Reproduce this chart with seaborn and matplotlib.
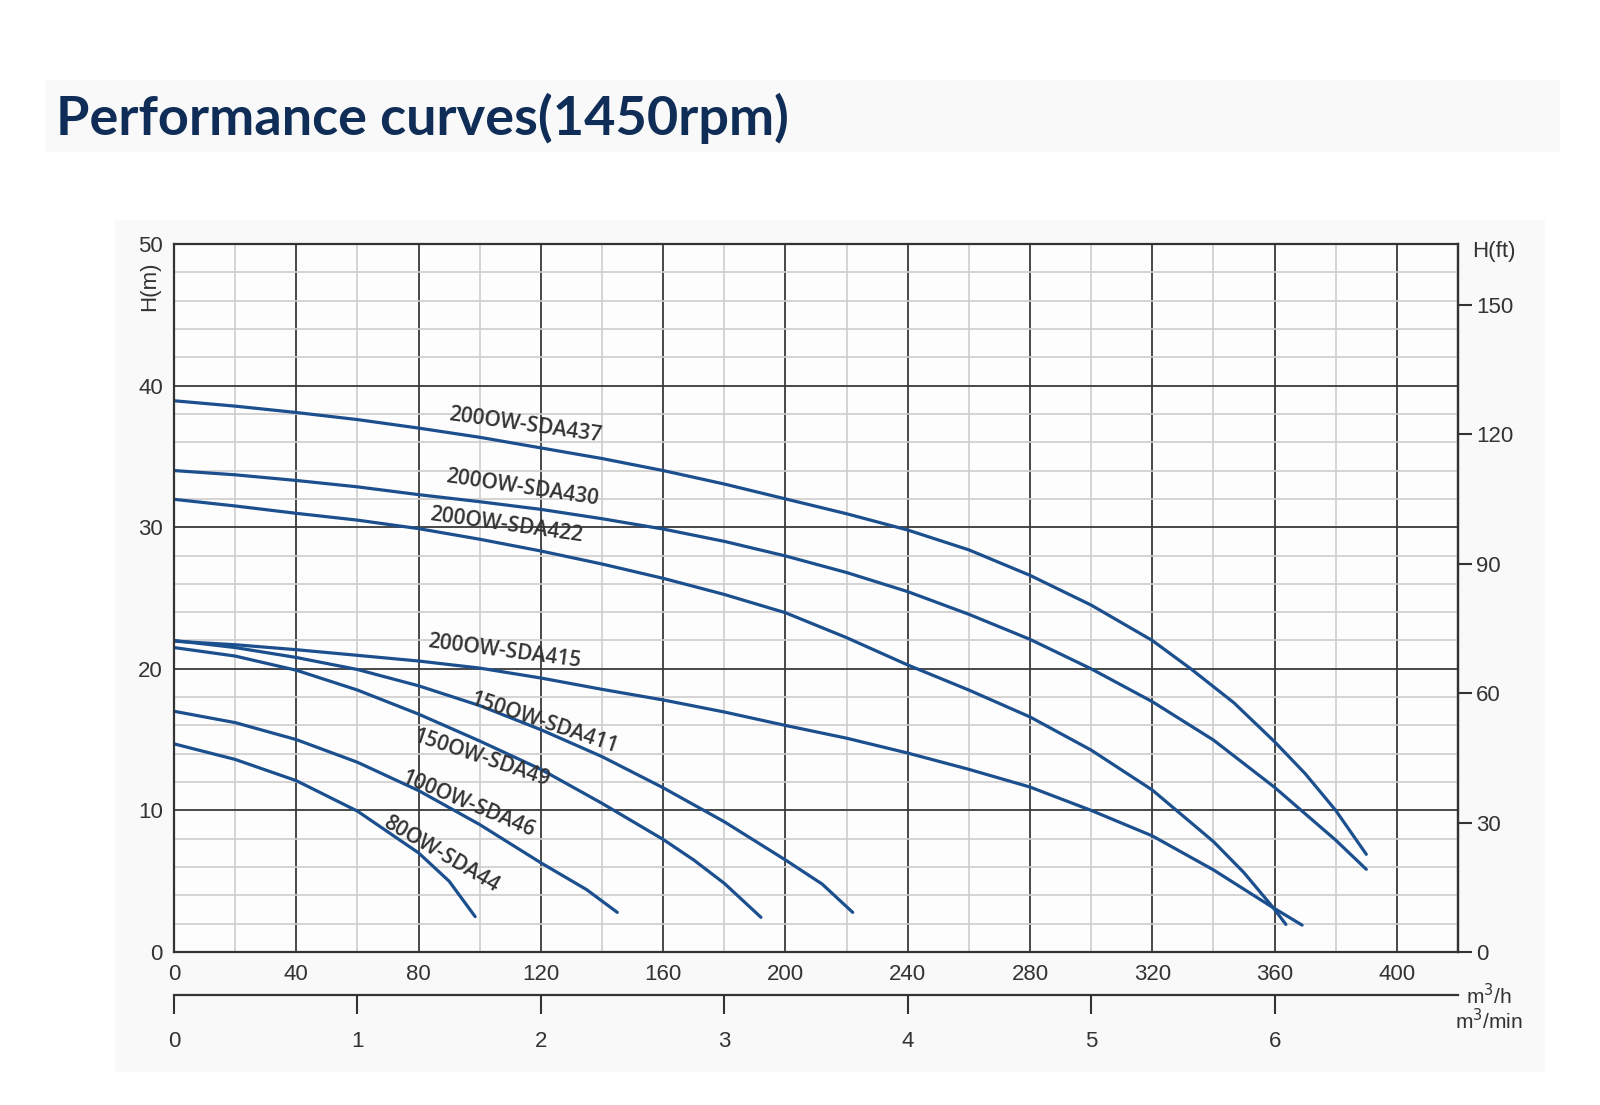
import matplotlib
matplotlib.use("Agg")
import matplotlib.pyplot as plt
from matplotlib.patches import Rectangle
from matplotlib.ticker import MultipleLocator
import pandas as pd
import seaborn as sns

# Q in m3/h, H in m
q_437 = [0, 20, 40, 60, 80, 100, 120, 140, 160, 180, 200, 220, 240, 260, 280, 300,
         320, 332.6, 346.7, 360, 370, 380, 390]
h_437 = [38.93, 38.55, 38.1, 37.6, 37.0, 36.35, 35.6, 34.85, 34.0, 33.05, 32.0, 30.95,
         29.8, 28.4, 26.6, 24.5, 22.0, 20.0, 17.6, 14.85, 12.6, 10.0, 6.9]

q_430 = [0, 20, 40, 60, 80, 100, 120, 140, 160, 180, 200, 220, 240, 260, 280, 300,
         320, 340, 360, 380, 390]
h_430 = [34.0, 33.7, 33.3, 32.85, 32.3, 31.8, 31.26, 30.6, 29.87, 29.0, 27.97, 26.8,
         25.45, 23.85, 22.08, 20.0, 17.68, 14.97, 11.63, 7.9, 5.84]

q_422 = [0, 20, 40, 60, 80, 100, 120, 140, 160, 180, 200, 220, 240, 260, 280, 300,
         320, 340, 350, 359.3, 363.7]
h_422 = [31.97, 31.5, 30.98, 30.5, 29.9, 29.15, 28.32, 27.4, 26.39, 25.25, 23.96, 22.2,
         20.27, 18.5, 16.6, 14.26, 11.44, 7.8, 5.6, 3.2, 1.95]

q_415 = [0, 20, 40, 60, 80, 100, 120, 140, 160, 180, 200, 220, 240, 260, 280, 300,
         320, 340, 359, 369]
h_415 = [21.95, 21.7, 21.35, 20.95, 20.55, 20.05, 19.35, 18.55, 17.8, 16.95, 16.0, 15.1,
         14.05, 12.9, 11.65, 10.0, 8.2, 5.8, 3.2, 1.9]

q_411 = [0, 20, 40, 60, 80, 100, 120, 140, 160, 180, 200, 212, 222]
h_411 = [22.0, 21.5, 20.8, 19.95, 18.8, 17.4, 15.7, 13.8, 11.6, 9.2, 6.5, 4.8, 2.8]

q_49 = [0, 20, 40, 60, 80, 100, 120, 140, 160, 170, 180, 192]
h_49 = [21.5, 20.9, 19.9, 18.5, 16.8, 14.9, 12.9, 10.5, 7.95, 6.5, 4.85, 2.45]

q_46 = [0, 20, 40, 60, 80, 100, 120, 135, 145]
h_46 = [17.0, 16.2, 15.0, 13.4, 11.4, 9.0, 6.3, 4.4, 2.8]

q_44 = [0, 20, 40, 60, 80, 90, 98.5]
h_44 = [14.7, 13.6, 12.1, 9.95, 7.0, 5.0, 2.5]

models = ["200OW-SDA437", "200OW-SDA430", "200OW-SDA422", "200OW-SDA415",
          "150OW-SDA411", "150OW-SDA49", "100OW-SDA46", "80OW-SDA44"]
flows = [q_437, q_430, q_422, q_415, q_411, q_49, q_46, q_44]
heads = [h_437, h_430, h_422, h_415, h_411, h_49, h_46, h_44]

# where each model name sits (Q, H) and its tilt
label_q = [115, 114, 108.6, 108, 121, 100.7, 96.3, 87.3]
label_h = [37.2, 32.8, 30.1, 21.2, 16.15, 13.7, 10.4, 6.9]
label_rot = [-8, -8.5, -8, -7.4, -18.5, -18.5, -22.7, -30.5]

x_ticks = [0, 40, 80, 120, 160, 200, 240, 280, 320, 360, 400]
ft_ticks = [0, 30, 60, 90, 120, 150]
min_ticks = [0, 1, 2, 3, 4, 5, 6]

df = pd.concat([pd.DataFrame({"Q": q, "H": h, "model": m})
                for q, h, m in zip(flows, heads, models)], ignore_index=True)

sns.set_style("white")
plt.rcParams["font.family"] = ["Liberation Sans", "DejaVu Sans"]

TXT = "#333333"
BLUE = "#1b4f8e"

fig = plt.figure(figsize=(16, 11.05), dpi=100)
fig.patch.set_facecolor("white")
fig.patches.append(Rectangle((45 / 1600, 1 - 152 / 1105), 1515 / 1600, 72 / 1105,
                             transform=fig.transFigure, facecolor="#f9f9f9",
                             edgecolor="none", zorder=-5))
fig.patches.append(Rectangle((115 / 1600, 1 - 1072 / 1105), 1430 / 1600, 852 / 1105,
                             transform=fig.transFigure, facecolor="#f9f9f9",
                             edgecolor="none", zorder=-5))

ax = fig.add_axes([174 / 1600, 1 - 952 / 1105, 1284 / 1600, 708 / 1105])
ax.set_facecolor("#fdfdfd")

for m in models:
    sns.lineplot(data=df[df["model"] == m], x="Q", y="H", ax=ax, color=BLUE,
                 lw=2.3, sort=False, estimator=None, legend=False)

ax.set_xlim(0, 420)
ax.set_ylim(0, 50)
ax.xaxis.set_major_locator(MultipleLocator(40))
ax.xaxis.set_minor_locator(MultipleLocator(20))
ax.yaxis.set_major_locator(MultipleLocator(10))
ax.yaxis.set_minor_locator(MultipleLocator(2))
ax.set_xticks(x_ticks)
ax.set_axisbelow(True)
ax.grid(which="minor", color="#d0cccc", lw=1.2)
ax.grid(which="major", color="#3a3a3a", lw=1.3)
ax.tick_params(which="both", length=0, labelsize=16, colors=TXT)
ax.tick_params(axis="x", pad=9)
ax.tick_params(axis="y", pad=8)
ax.set_xlabel("")
ax.set_ylabel("")
for s in ax.spines.values():
    s.set_color("#333333")
    s.set_linewidth(1.6)

for m, x, y, r in zip(models, label_q, label_h, label_rot):
    ax.text(x, y, m, rotation=r, rotation_mode="anchor", ha="center", va="center",
            fontsize=15, fontweight="semibold", color="#333333",
            family=["Open Sans", "DejaVu Sans"])

# right axis in feet
ax_ft = ax.secondary_yaxis("right", functions=(lambda m: m / 0.3048, lambda f: f * 0.3048))
ax_ft.set_yticks(ft_ticks)
ax_ft.tick_params(length=10, width=1.5, colors=TXT, labelsize=16, pad=3)
ax_ft.spines["right"].set_color("#333333")
ax_ft.spines["right"].set_linewidth(1.6)

# lower axis in m3/min
ax_min = ax.secondary_xaxis(-43 / 708, functions=(lambda q: q / 60, lambda v: v * 60))
ax_min.set_xticks(min_ticks)
ax_min.tick_params(length=14, width=1.5, colors=TXT, labelsize=16, pad=12)
ax_min.spines["bottom"].set_color("#333333")
ax_min.spines["bottom"].set_linewidth(1.6)

fig.text(150 / 1600, 1 - 286 / 1105, "H(m)", rotation=90, ha="center", va="center",
         fontsize=16, color=TXT)
fig.text(1494 / 1600, 1 - 252 / 1105, "H(ft)", ha="center", va="center",
         fontsize=16, color=TXT)
fig.text(1489 / 1600, 1 - 996 / 1105, "m$^3$/h", ha="center", va="center",
         fontsize=15, color=TXT)
fig.text(1489 / 1600, 1 - 1021 / 1105, "m$^3$/min", ha="center", va="center",
         fontsize=15, color=TXT)

fig.text(56 / 1600, 1 - 135 / 1105, "Performance curves(1450rpm)", ha="left",
         va="baseline", fontsize=39, fontweight="bold", color="#0f2d57",
         family=["Lato", "DejaVu Sans"])

fig.savefig("out.png", dpi=100, facecolor=fig.get_facecolor())
